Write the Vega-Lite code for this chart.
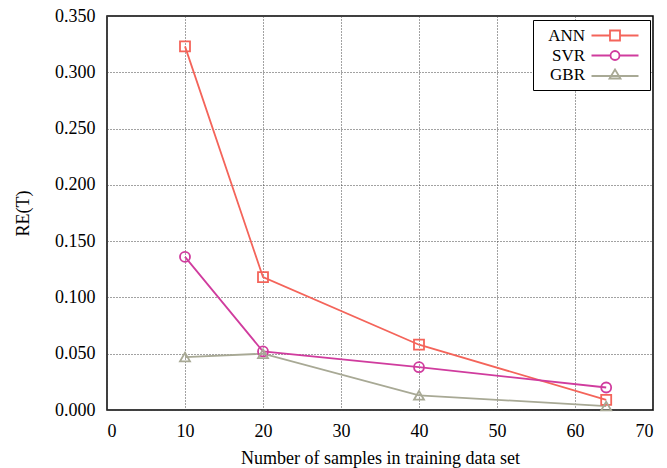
{
  "$schema": "https://vega.github.io/schema/vega-lite/v6.json",
  "width": 546,
  "height": 394,
  "autosize": "none",
  "padding": {"left": 107, "top": 16, "right": 14, "bottom": 58},
  "background": "white",
  "config": {
    "font": "Liberation Serif",
    "view": {"stroke": "black", "strokeWidth": 1.5},
    "axis": {
      "labelFont": "Liberation Serif",
      "titleFont": "Liberation Serif",
      "labelFontSize": 18,
      "titleFontSize": 18,
      "titleFontWeight": "normal",
      "labelColor": "black",
      "titleColor": "black",
      "domain": false,
      "ticks": false,
      "gridColor": "#444",
      "gridDash": [1, 2],
      "gridWidth": 1
    }
  },
  "data": {
    "values": [
      {"model": "ANN", "n": 10, "re": 0.323},
      {"model": "ANN", "n": 20, "re": 0.118},
      {"model": "ANN", "n": 40, "re": 0.058},
      {"model": "ANN", "n": 64, "re": 0.009},
      {"model": "SVR", "n": 10, "re": 0.136},
      {"model": "SVR", "n": 20, "re": 0.052},
      {"model": "SVR", "n": 40, "re": 0.038},
      {"model": "SVR", "n": 64, "re": 0.020},
      {"model": "GBR", "n": 10, "re": 0.047},
      {"model": "GBR", "n": 20, "re": 0.050},
      {"model": "GBR", "n": 40, "re": 0.013},
      {"model": "GBR", "n": 64, "re": 0.0035}
    ]
  },
  "encoding": {
    "x": {
      "field": "n", "type": "quantitative",
      "scale": {"domain": [0, 70], "nice": false},
      "axis": {"values": [0, 10, 20, 30, 40, 50, 60, 70], "labelFont": "Liberation Serif", "labelPadding": 12, "title": "Number of samples in training data set", "titlePadding": 9}
    },
    "y": {
      "field": "re", "type": "quantitative",
      "scale": {"domain": [0, 0.35], "nice": false},
      "axis": {"values": [0, 0.05, 0.1, 0.15, 0.2, 0.25, 0.3, 0.35], "format": ".3f", "labelFont": "Liberation Serif", "labelPadding": 12, "title": "RE(T)", "titlePadding": 22}
    },
    "color": {
      "field": "model", "type": "nominal",
      "scale": {"domain": ["ANN", "SVR", "GBR"], "range": ["#f4645a", "#d03c9e", "#a8a995"]}
    }
  },
  "layer": [
    {
      "mark": {"type": "line", "strokeWidth": 1.8},
      "encoding": {
        "color": {
          "field": "model", "type": "nominal",
          "legend": {
            "title": null,
            "orient": "none",
            "legendX": 426,
            "legendY": 4,
            "padding": 7,
            "strokeColor": "black",
            "fillColor": "white",
            "labelFont": "Liberation Serif",
            "labelFontSize": 17,
            "labelColor": "black",
            "symbolSize": 100,
            "symbolStrokeWidth": 1.8,
            "rowPadding": 1,
            "encode": {
              "symbols": {
                "enter": {
                  "shape": {"signal": "datum.value === 'ANN' ? 'M-4.7,0H-1M1,0H4.7M-1,-1H1V1H-1Z' : datum.value === 'SVR' ? 'M-4.7,0H-0.9M0.9,0H4.7M0.9,0A0.9,0.9 0 1,1 -0.9,0A0.9,0.9 0 1,1 0.9,0Z' : 'M-4.7,0.3H4.7M0,-1L1.1,0.8H-1.1Z'"}
                },
                "update": {
                  "x": {"value": 75},
                  "fill": {"value": "transparent"},
                  "shape": {"signal": "datum.value === 'ANN' ? 'M-4.7,0H-1M1,0H4.7M-1,-1H1V1H-1Z' : datum.value === 'SVR' ? 'M-4.7,0H-0.9M0.9,0H4.7M0.9,0A0.9,0.9 0 1,1 -0.9,0A0.9,0.9 0 1,1 0.9,0Z' : 'M-4.7,0.3H4.7M0,-1L1.1,0.8H-1.1Z'"}
                }
              },
              "labels": {
                "update": {
                  "x": {"value": 45},
                  "align": {"value": "right"}
                }
              }
            }
          }
        }
      }
    },
    {
      "transform": [{"filter": "datum.model === 'ANN'"}],
      "mark": {"type": "point", "shape": "square", "filled": false, "size": 100, "strokeWidth": 1.8, "opacity": 1},
      "encoding": {"color": {"field": "model", "type": "nominal", "legend": null}}
    },
    {
      "transform": [{"filter": "datum.model === 'SVR'"}],
      "mark": {"type": "point", "shape": "circle", "filled": false, "size": 100, "strokeWidth": 1.8, "opacity": 1},
      "encoding": {"color": {"field": "model", "type": "nominal", "legend": null}}
    },
    {
      "transform": [{"filter": "datum.model === 'GBR'"}],
      "mark": {"type": "point", "shape": "triangle-up", "filled": false, "size": 100, "strokeWidth": 1.8, "opacity": 1},
      "encoding": {"color": {"field": "model", "type": "nominal", "legend": null}}
    }
  ]
}
